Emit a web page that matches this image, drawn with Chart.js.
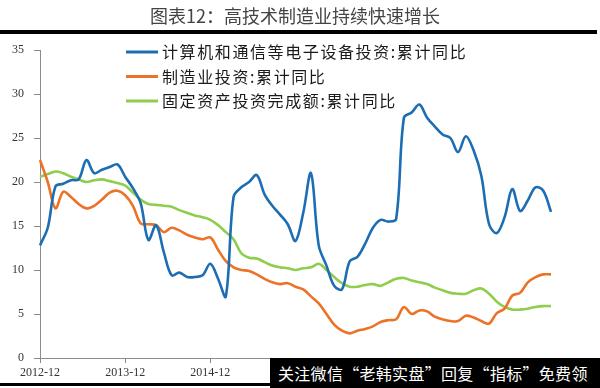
<!DOCTYPE html>
<html>
<head>
<meta charset="utf-8">
<script src="https://cdn.jsdelivr.net/npm/chart.js@4.4.1/dist/chart.umd.min.js"></script>
<style>
  html, body { margin: 0; padding: 0; background: #fff; }
  #wrap { position: relative; width: 600px; height: 388px; overflow: hidden; }
  #mark {
    position: absolute; left: 270px; top: 358px; width: 330px; height: 30px;
    background: #000; color: #fff; box-sizing: border-box; padding-left: 8px;
    font: 16px "Noto Sans CJK SC", sans-serif; letter-spacing: 0.3px;
    line-height: 30px; white-space: nowrap;
  }
</style>
</head>
<body>
<div id="wrap">
  <canvas id="c" width="600" height="388"></canvas>
  <div id="mark">关注微信“老韩实盘”回复“指标”免费领</div>
</div>
<script>
// monthly points (no January in the source data)
const MONTHS = [
  '2012-12',
  '2013-02', '2013-03', '2013-04', '2013-05', '2013-06', '2013-07', '2013-08', '2013-09', '2013-10', '2013-11', '2013-12',
  '2014-02', '2014-03', '2014-04', '2014-05', '2014-06', '2014-07', '2014-08', '2014-09', '2014-10', '2014-11', '2014-12',
  '2015-02', '2015-03', '2015-04', '2015-05', '2015-06', '2015-07', '2015-08', '2015-09', '2015-10', '2015-11', '2015-12',
  '2016-02', '2016-03', '2016-04', '2016-05', '2016-06', '2016-07', '2016-08', '2016-09', '2016-10', '2016-11', '2016-12',
  '2017-02', '2017-03', '2017-04', '2017-05', '2017-06', '2017-07', '2017-08', '2017-09', '2017-10', '2017-11', '2017-12',
  '2018-02', '2018-03', '2018-04', '2018-05', '2018-06', '2018-07', '2018-08', '2018-09', '2018-10', '2018-11', '2018-12',
];

const COMPUTER = [
  12.8,
  14.8, 19.5, 19.8, 20.2, 20.3, 22.5, 21.0, 21.4, 21.7, 22.0, 20.6,
  19.3, 17.6, 13.4, 15.1, 12.0, 9.4, 9.7, 9.2, 9.2, 9.4, 10.7,
  9.0, 7.0, 18.3, 19.4, 20.0, 20.8, 18.6, 17.3, 16.3, 15.2, 13.3,
  16.5, 21.0, 12.8, 10.5, 8.2, 7.8, 11.0, 11.5, 13.0, 14.8, 15.7,
  15.5, 15.8, 27.3, 27.9, 28.8, 27.3, 26.3, 25.4, 25.0, 23.4, 25.2,
  23.6, 20.7, 15.2, 14.2, 16.0, 19.2, 16.7, 17.9, 19.4, 19.0, 16.6,
];

const MANUF = [
  22.5,
  20.0, 17.0, 18.9, 18.3, 17.5, 17.0, 17.3, 18.0, 18.8, 19.0, 18.5,
  17.3, 15.3, 15.2, 15.1, 14.3, 14.8, 14.5, 14.0, 13.7, 13.5, 13.7,
  12.3, 11.0, 10.3, 10.0, 9.9, 9.5, 9.0, 8.6, 8.4, 8.5, 8.1,
  7.8, 7.0, 6.2, 5.0, 3.8, 3.1, 2.8, 3.1, 3.3, 3.6, 4.1,
  4.3, 4.4, 5.8, 5.0, 5.4, 5.3, 4.7, 4.4, 4.2, 4.2, 4.8,
  4.6, 4.2, 3.9, 5.1, 5.6, 7.1, 7.4, 8.6, 9.2, 9.5, 9.5,
];

const FAI = [
  20.6,
  20.9, 21.2, 21.0, 20.6, 20.3, 20.0, 20.2, 20.3, 20.1, 19.9, 19.6,
  18.8, 18.0, 17.5, 17.4, 17.3, 17.2, 16.8, 16.5, 16.2, 16.0, 15.7,
  15.1, 14.3, 13.5, 11.9, 11.4, 11.3, 10.9, 10.5, 10.3, 10.2, 10.0,
  10.2, 10.3, 10.7, 10.0, 9.2, 8.5, 8.1, 8.1, 8.3, 8.4, 8.2,
  8.6, 9.0, 9.1, 8.8, 8.6, 8.4, 8.0, 7.7, 7.4, 7.3, 7.3,
  7.7, 7.9, 7.3, 6.4, 5.8, 5.5, 5.5, 5.6, 5.8, 5.9, 5.9,
];

const TITLE = '图表12：高技术制造业持续快速增长';
const LABELS = ['计算机和通信等电子设备投资:累计同比', '制造业投资:累计同比', '固定资产投资完成额:累计同比'];
const COLORS = ['#1c6db4', '#ec7228', '#8fcd4c'];

const AXIS = '#8c8c8c';
const TICK_FONT = { family: '"Liberation Serif", serif', size: 12 };
const CJK = '"Noto Sans CJK SC", sans-serif';

// thick rules, title and the in-plot legend
const decor = {
  id: 'decor',
  beforeDraw(chart) {
    const ctx = chart.ctx;
    ctx.save();
    ctx.fillStyle = '#fff';
    ctx.fillRect(0, 0, chart.width, chart.height);
    ctx.fillStyle = '#000';
    ctx.fillRect(0, 30, 597, 4);
    ctx.fillRect(0, 383, 600, 3);
    ctx.fillStyle = '#444';
    ctx.font = '18px ' + CJK;
    ctx.textAlign = 'center';
    ctx.textBaseline = 'middle';
    ctx.fillText(TITLE, 295, 16);
    ctx.restore();
  },
  afterDatasetsDraw(chart) {
    const ctx = chart.ctx;
    ctx.save();
    ctx.font = '16px ' + CJK;
    ctx.letterSpacing = '1.6px';
    ctx.textBaseline = 'middle';
    chart.data.datasets.forEach((ds, i) => {
      const y = 52 + i * 24.5;
      ctx.strokeStyle = ds.borderColor;
      ctx.lineWidth = 3;
      ctx.beginPath();
      ctx.moveTo(126, y);
      ctx.lineTo(158, y);
      ctx.stroke();
      ctx.fillStyle = '#1a1a1a';
      ctx.fillText(ds.label, 162, y);
    });
    ctx.restore();
  },
};

const series = [COMPUTER, MANUF, FAI];

new Chart(document.getElementById('c').getContext('2d'), {
  type: 'line',
  data: {
    labels: MONTHS,
    datasets: series.map((d, i) => ({
      label: LABELS[i],
      data: d,
      borderColor: COLORS[i],
      borderWidth: 2.6,
      pointRadius: 0,
      tension: 0.35,
      fill: false,
    })),
  },
  options: {
    responsive: false,
    animation: false,
    devicePixelRatio: 1,
    layout: { padding: { top: 50, right: 49, bottom: 0, left: 0 } },
    plugins: {
      legend: { display: false },
      tooltip: { enabled: false },
      title: { display: false },
    },
    scales: {
      x: {
        type: 'category',
        afterFit: (s) => { s.height = 30; },
        ticks: {
          autoSkip: false,
          maxRotation: 0,
          padding: 3,
          color: '#333',
          font: TICK_FONT,
          callback: (v, i) => (MONTHS[i].endsWith('-12') ? MONTHS[i] : ''),
        },
        grid: {
          drawOnChartArea: false,
          tickLength: 5,
          color: (ctx) => (MONTHS[ctx.index] && MONTHS[ctx.index].endsWith('-12') ? AXIS : 'rgba(0,0,0,0)'),
        },
        border: { color: AXIS, width: 1 },
      },
      y: {
        min: 0,
        max: 35,
        afterFit: (s) => { s.width = 40; },
        ticks: { stepSize: 5, padding: 10, color: '#333', font: TICK_FONT },
        grid: { drawOnChartArea: false, tickLength: 6, color: AXIS },
        border: { color: AXIS, width: 1 },
      },
    },
  },
  plugins: [decor],
});
</script>
</body>
</html>
